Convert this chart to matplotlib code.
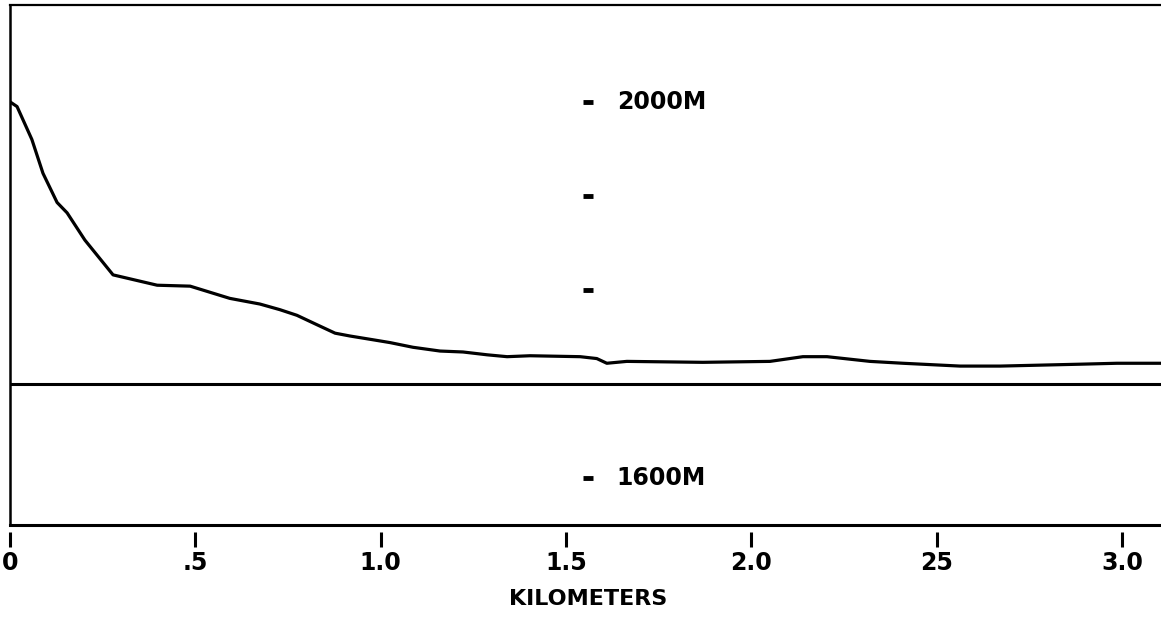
import matplotlib.pyplot as plt

# perfil de elevacion (km, metros)
dist_km = [0.0, 0.019, 0.035, 0.059, 0.089, 0.127, 0.154, 0.202, 0.278, 0.397,
           0.486, 0.593, 0.674, 0.728, 0.774, 0.828, 0.877, 0.917, 0.979, 1.025,
           1.087, 1.160, 1.222, 1.287, 1.341, 1.403, 1.538, 1.583, 1.610, 1.664,
           1.869, 2.050, 2.139, 2.204, 2.320, 2.409, 2.563, 2.671, 2.886, 2.986,
           3.105]
elev_m = [2000, 1995, 1981, 1960, 1924, 1893, 1882, 1853, 1816, 1805,
          1804, 1791, 1785, 1779, 1773, 1763, 1754, 1751, 1747, 1744,
          1739, 1735, 1734, 1731, 1729, 1730, 1729, 1727, 1722, 1724,
          1723, 1724, 1729, 1729, 1724, 1722, 1719, 1719, 1721, 1722,
          1722]

nivel_base = 1700
marcas_y = [2000, 1900, 1800, 1600]
etiquetas_y = {2000: '2000M', 1600: '1600M'}

ticks_x = [0, 0.5, 1.0, 1.5, 2.0, 2.5, 3.0]
etiquetas_x = ['0', '.5', '1.0', '1.5', '2.0', '25', '3.0']

fig = plt.figure(figsize=(11.61, 6.23), dpi=100)
ax = fig.add_axes([10 / 1161, 1 - 525 / 623, 1 - 10 / 1161, 520 / 623])

xmin, xmax = 0, 3.105
ymin, ymax = 1550, 2103
ax.set_xlim(xmin, xmax)
ax.set_ylim(ymin, ymax)

# perfil y linea base
ax.plot(dist_km, elev_m, color='black', linewidth=2.3, solid_capstyle='round')
ax.axhline(nivel_base, color='black', linewidth=2.2)

# marcas de elevacion en el centro
x_marca = 1.559
ax.plot([x_marca] * len(marcas_y), marcas_y, linestyle='none', marker='_',
        markersize=7, markeredgewidth=3.5, color='black')
for e, txt in etiquetas_y.items():
    ax.text(1.637, e, txt, fontsize=17, fontweight='bold', ha='left',
            va='center', color='black')

# marco
ax.spines['right'].set_visible(False)
ax.spines['top'].set_linewidth(1.6)
ax.spines['left'].set_linewidth(1.8)
ax.spines['bottom'].set_position(('outward', 5))
ax.spines['bottom'].set_visible(False)
ax.plot([xmin, xmax], [ymin, ymin], color='black', linewidth=2.2, clip_on=False)

ax.set_yticks([])
ax.set_xticks(ticks_x)
ax.set_xticklabels(etiquetas_x, fontsize=17, fontweight='bold')
ax.tick_params(axis='x', direction='out', length=10.5, width=2.2, pad=3)

fig.text(588 / 1161, 1 - 599 / 623, 'KILOMETERS', fontsize=16,
         fontweight='bold', ha='center', va='center')

fig.savefig('out.png', dpi=100)
